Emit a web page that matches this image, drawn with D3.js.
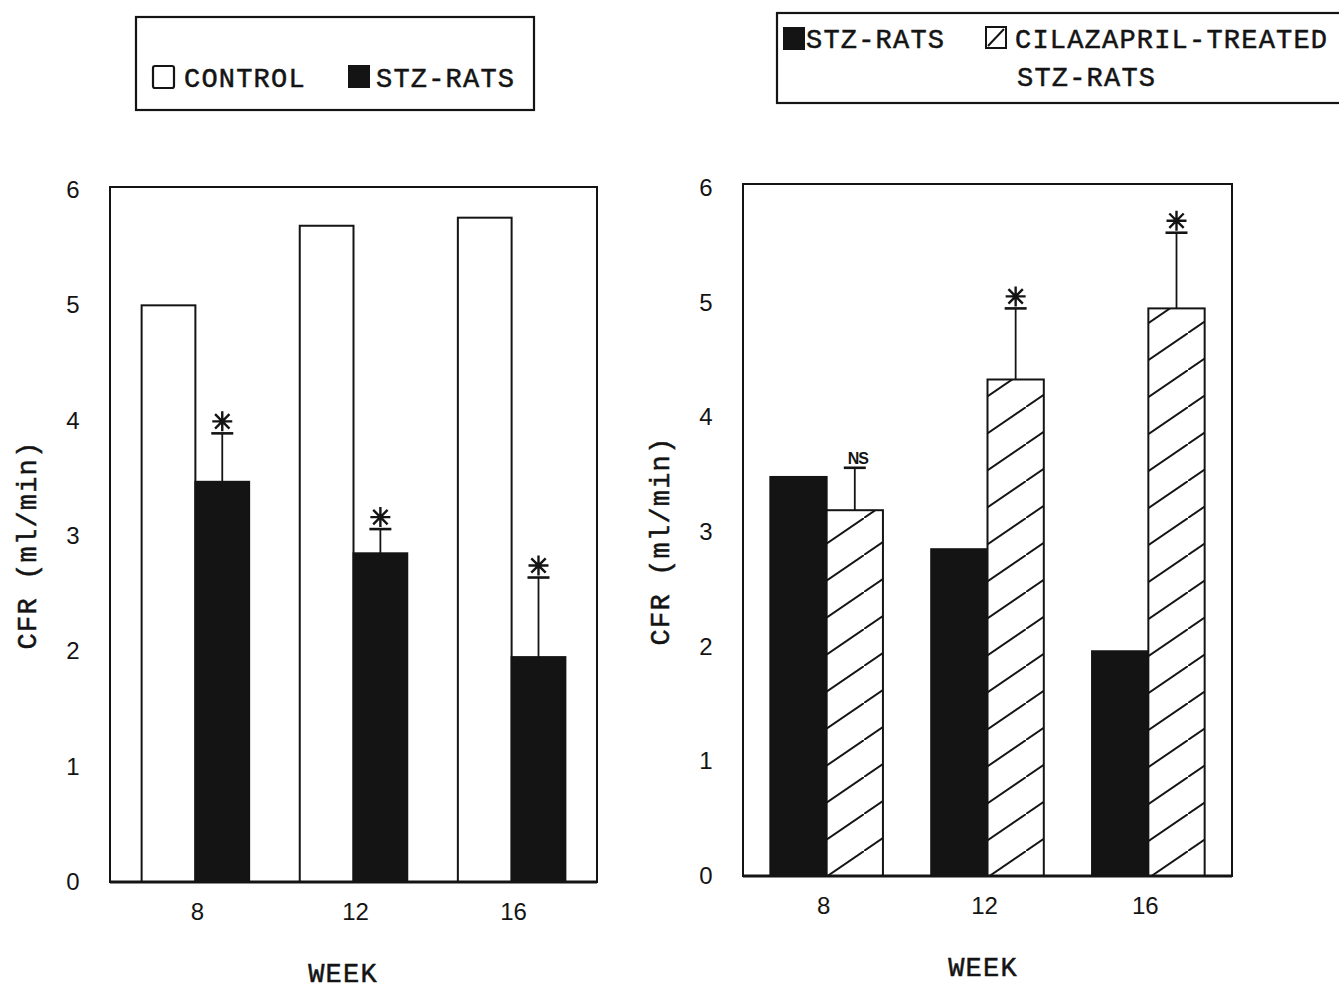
<!DOCTYPE html>
<html>
<head>
<meta charset="utf-8">
<script src="https://cdn.jsdelivr.net/npm/d3@7"></script>
<style>
  html, body { margin: 0; padding: 0; background: #fff; }
  svg { display: block; }
</style>
</head>
<body>
<svg id="chart" width="1339" height="990"></svg>
<script>
// ---------- data ----------
const weeks = ["8", "12", "16"];
const yTicks = [0, 1, 2, 3, 4, 5, 6];

// left panel: CONTROL vs STZ-RATS
const leftControl = [5.0, 5.69, 5.76];
const leftStz = [3.47, 2.85, 1.95];
const leftStzErr = [0.42, 0.21, 0.69];
const leftMarks = ["*", "*", "*"];

// right panel: STZ-RATS vs CILAZAPRIL-TREATED STZ-RATS
const rightStz = [3.48, 2.85, 1.96];
const rightCila = [3.19, 4.33, 4.95];
const rightCilaErr = [0.37, 0.62, 0.66];
const rightMarks = ["NS", "*", "*"];

// legend texts
const leftLegend = ["CONTROL", "STZ-RATS"];
const rightLegend = ["STZ-RATS", "CILAZAPRIL-TREATED", "STZ-RATS"];
const yTitle = "CFR (ml/min)";
const xTitle = "WEEK";

// ---------- drawing ----------
const svg = d3.select("#chart");
const INK = "#141414";
const MONO = "'Liberation Mono', 'DejaVu Sans Mono', monospace";
const SANS = "'Liberation Sans', Arial, sans-serif";
const MONO_SIZE = 27;
const MONO_LS = 1.2;

const defs = svg.append("defs");
const hatch = defs.append("pattern")
  .attr("id", "hatch").attr("patternUnits", "userSpaceOnUse")
  .attr("width", 54).attr("height", 37);
hatch.append("rect").attr("width", 54).attr("height", 37).attr("fill", "#fff");
hatch.append("path").attr("d", "M-6,41.1 L60,-4.1")
  .attr("stroke", INK).attr("stroke-width", 1.9);

function starPath(cx, cy, r) {
  const d = r * 0.72;
  return `M${cx},${cy - r}L${cx},${cy + r}` +
         `M${cx - d},${cy - d}L${cx + d},${cy + d}` +
         `M${cx - d},${cy + d}L${cx + d},${cy - d}` +
         `M${cx - r},${cy}L${cx + r},${cy}`;
}

function monoText(sel, x, y, txt, anchor) {
  return sel.append("text").attr("x", x).attr("y", y)
    .attr("text-anchor", anchor || "start")
    .attr("font-family", MONO).attr("font-size", MONO_SIZE)
    .attr("letter-spacing", MONO_LS)
    .attr("stroke", INK).attr("stroke-width", 0.5)
    .attr("fill", INK).text(txt);
}

function panel(cfg) {
  const g = svg.append("g");
  const y = d3.scaleLinear().domain([0, 6]).range([cfg.y0, cfg.y6]);
  const x = d3.scaleBand().domain(weeks).range([cfg.x0, cfg.x1])
    .paddingInner(cfg.padIn).paddingOuter(cfg.padOut);
  const xs = d3.scaleBand().domain([0, 1]).range([0, x.bandwidth()]);

  // frame (top, left, right)
  g.append("rect")
    .attr("x", cfg.x0).attr("y", cfg.frameTop)
    .attr("width", cfg.x1 - cfg.x0).attr("height", cfg.y0 - cfg.frameTop)
    .attr("fill", "none").attr("stroke", INK).attr("stroke-width", 2);

  // bars
  cfg.series.forEach((s, si) => {
    g.selectAll(null).data(s.values).join("rect")
      .attr("x", (d, i) => x(weeks[i]) + xs(si))
      .attr("y", d => y(d))
      .attr("width", xs.bandwidth())
      .attr("height", d => y(0) - y(d))
      .attr("fill", s.fill)
      .attr("stroke", INK).attr("stroke-width", 2);
  });

  // error bars + significance marks
  const es = cfg.errSeries;
  const ev = cfg.series[es].values;
  cfg.err.forEach((e, i) => {
    const cx = x(weeks[i]) + xs(es) + xs.bandwidth() / 2;
    const yt = y(ev[i] + e);
    g.append("line").attr("x1", cx).attr("x2", cx)
      .attr("y1", y(ev[i])).attr("y2", yt)
      .attr("stroke", INK).attr("stroke-width", 1.8);
    g.append("line").attr("x1", cx - 11).attr("x2", cx + 11)
      .attr("y1", yt).attr("y2", yt)
      .attr("stroke", INK).attr("stroke-width", 2.6);
    const m = cfg.marks[i];
    if (m === "*") {
      g.append("path").attr("d", starPath(cx, yt - 12, 10))
        .attr("stroke", INK).attr("stroke-width", 2.4).attr("fill", "none");
    } else {
      g.append("text").attr("x", cx + 3).attr("y", yt - 4)
        .attr("text-anchor", "middle")
        .attr("font-family", SANS).attr("font-size", 16)
        .attr("font-weight", "bold").attr("fill", INK)
        .attr("letter-spacing", -1)
        .text(m);
    }
  });

  // x axis baseline
  g.append("line").attr("x1", cfg.x0).attr("x2", cfg.x1)
    .attr("y1", cfg.y0).attr("y2", cfg.y0)
    .attr("stroke", INK).attr("stroke-width", 2.8);

  // y tick labels
  g.selectAll(null).data(yTicks).join("text")
    .attr("x", cfg.x0 - 37).attr("y", d => y(d) + 8)
    .attr("text-anchor", "middle")
    .attr("font-family", SANS).attr("font-size", 24).attr("fill", INK)
    .text(d => d);

  // x tick labels
  g.selectAll(null).data(weeks).join("text")
    .attr("x", d => x(d) + x.bandwidth() / 2 + cfg.xLabDx)
    .attr("y", cfg.y0 + 38)
    .attr("text-anchor", "middle")
    .attr("font-family", SANS).attr("font-size", 24).attr("fill", INK)
    .text(d => d);

  // titles
  monoText(g, 0, 0, yTitle, "middle")
    .attr("x", null).attr("y", null)
    .attr("transform", `translate(${cfg.x0 - 74},${cfg.yTitleY}) rotate(-90)`);
  monoText(g, cfg.xTitleX, cfg.xTitleY, xTitle, "middle");
}

panel({
  x0: 110, x1: 597, y0: 882, y6: 190, frameTop: 187, padIn: 0.32, padOut: 0.2,
  series: [{ values: leftControl, fill: "#fff" }, { values: leftStz, fill: INK }],
  errSeries: 1, err: leftStzErr, marks: leftMarks,
  xLabDx: 2, yTitleY: 545, xTitleX: 343, xTitleY: 982
});
panel({
  x0: 743, x1: 1232, y0: 876, y6: 188, frameTop: 184, padIn: 0.3, padOut: 0.17,
  series: [{ values: rightStz, fill: INK }, { values: rightCila, fill: "url(#hatch)" }],
  errSeries: 1, err: rightCilaErr, marks: rightMarks,
  xLabDx: -3, yTitleY: 541, xTitleX: 983, xTitleY: 976
});

// ---------- legends ----------
const lg = svg.append("g");
lg.append("rect").attr("x", 136).attr("y", 17).attr("width", 398).attr("height", 93)
  .attr("fill", "none").attr("stroke", INK).attr("stroke-width", 2.2);
lg.append("rect").attr("x", 153).attr("y", 66).attr("width", 21).attr("height", 22)
  .attr("fill", "#fff").attr("stroke", INK).attr("stroke-width", 2.2).attr("rx", 2);
lg.append("rect").attr("x", 348).attr("y", 65).attr("width", 22).attr("height", 23)
  .attr("fill", INK);
monoText(lg, 184, 87, leftLegend[0]);
monoText(lg, 376, 87, leftLegend[1]);

const rg = svg.append("g");
rg.append("rect").attr("x", 777).attr("y", 13).attr("width", 600).attr("height", 90)
  .attr("fill", "none").attr("stroke", INK).attr("stroke-width", 2.2);
rg.append("rect").attr("x", 783).attr("y", 27).attr("width", 22).attr("height", 23)
  .attr("fill", INK);
rg.append("rect").attr("x", 986).attr("y", 27).attr("width", 20).attr("height", 21)
  .attr("fill", "#fff").attr("stroke", INK).attr("stroke-width", 2);
rg.append("line").attr("x1", 988).attr("y1", 46).attr("x2", 1004).attr("y2", 29)
  .attr("stroke", INK).attr("stroke-width", 2);
monoText(rg, 806, 48, rightLegend[0]);
monoText(rg, 1015, 48, rightLegend[1]);
monoText(rg, 1017, 86, rightLegend[2]);
</script>
</body>
</html>
